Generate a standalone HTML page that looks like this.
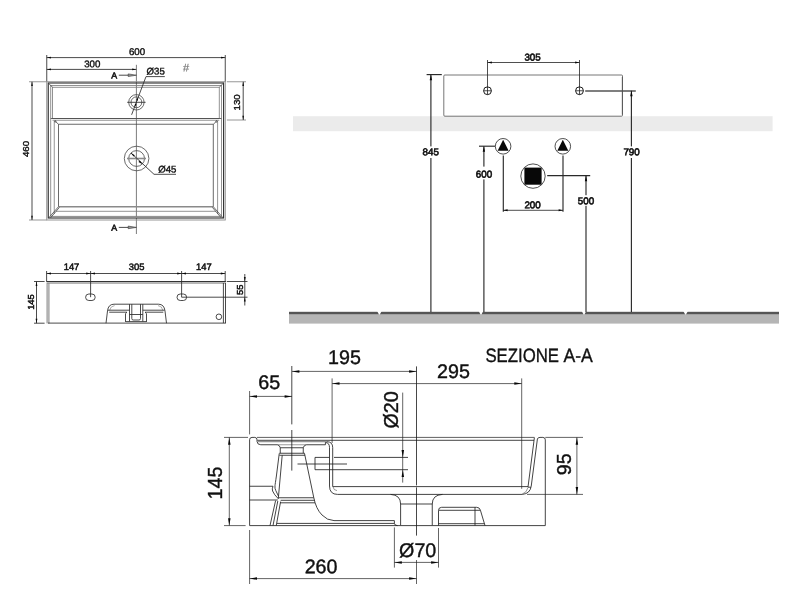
<!DOCTYPE html>
<html><head><meta charset="utf-8"><title>Scheda tecnica</title>
<style>
html,body{margin:0;padding:0;background:#fff}
body{width:800px;height:600px;overflow:hidden}
svg{display:block;will-change:transform;filter:grayscale(1)}
text{font-family:"Liberation Sans",sans-serif;fill:#111}
.a{fill:none;stroke:#2a2a2a;stroke-width:.85}
.a2{fill:none;stroke:#777;stroke-width:.6}
.b{fill:none;stroke:#2a2a2a;stroke-width:1.1}
.p{fill:none;stroke:#444;stroke-width:.8}
.g4{fill:none;stroke:#787878;stroke-width:.8}
.d2{fill:none;stroke:#444;stroke-width:.7}
.d{fill:none;stroke:#2a2a2a;stroke-width:.85}
.k{fill:#080808;stroke:none}
.h{fill:#999;stroke:#333;stroke-width:.6}
.t1{font-size:9.7px;stroke:#111;stroke-width:.4}
.t2{font-size:8.8px;stroke:#111;stroke-width:.55}
.t3{font-size:9.6px;stroke:#111;stroke-width:.4}
.g{fill:none;stroke:#8a8a8a;stroke-width:.9}
.g2{fill:none;stroke:#505050;stroke-width:.85}
.g3{fill:none;stroke:#8a8a8a;stroke-width:1.6}
.t4{font-size:11px;fill:#777;stroke:#777;stroke-width:.2}
.tb{font-size:9.6px;font-weight:bold}
.tr{font-size:9.4px;stroke:#111;stroke-width:.5}
.b2{fill:none;stroke:#333;stroke-width:1.1}
.ti{font-size:9.8px;stroke:#111;stroke-width:.62}
.ts{font-size:19.7px;stroke:#111;stroke-width:.4}
.tz{font-size:19.3px;stroke:#111;stroke-width:.35;word-spacing:1.5px}
.c{fill:none;stroke:#222;stroke-width:.85}
.c2{fill:none;stroke:#555;stroke-width:.6}
.c3{fill:none;stroke:#222;stroke-width:.6}
.c4{fill:none;stroke:#444;stroke-width:.85}
.cl{fill:none;stroke:#181818;stroke-width:.8}
.dl{fill:none;stroke:#222;stroke-width:.7}
.band{fill:#ebebeb}
.gb{fill:#b2b2b2}
.db{fill:#5a5a5a}
.floor{fill:#b5b5b6}
.floor2{fill:#555}
.w{fill:#fff}
.s{fill:none;stroke:#4a4a4a;stroke-width:.75}
.s1{fill:none;stroke:#222;stroke-width:.8}
.s2{fill:none;stroke:#2a2a2a;stroke-width:1.15}
.s4{fill:none;stroke:#555;stroke-width:1.5}
.s3{fill:none;stroke:#1a1a1a;stroke-width:1}
</style></head><body>
<svg width="800" height="600" viewBox="0 0 800 600">
<rect width="800" height="600" fill="#fff"/>
<g id="plan">
<path class="d" d="M46.75 55L46.75 81.75"/>
<path class="d" d="M225.25 55L225.25 81.75"/>
<path class="d" d="M46.75 57.6L225.25 57.6"/>
<path class="k" d="M46.75 57.6L50.95 56.8L50.95 58.4Z"/>
<path class="k" d="M225.25 57.6L221.05 58.4L221.05 56.8Z"/>
<path class="d" d="M46.75 69.4L136.4 69.4"/>
<path class="k" d="M46.75 69.4L50.95 68.6L50.95 70.2Z"/>
<path class="k" d="M136.4 69.4L132.2 70.2L132.2 68.6Z"/>
<text class="t1" x="137" y="55" text-anchor="middle" transform="rotate(0.03 137 55)">600</text>
<text class="t1" x="92.3" y="67.2" text-anchor="middle" transform="rotate(0.03 92.3 67.2)">300</text>
<path class="d2" d="M136.4 64.8L136.4 234"/>
<text class="t2" x="114.2" y="78.4" text-anchor="middle" transform="rotate(0.03 114.2 78.4)">A</text>
<path class="d" d="M118.8 75.2L129 75.2"/>
<path class="h" d="M128.2 73.9L136.4 75.2L128.2 76.5Z"/>
<text class="t2" x="114.2" y="230.8" text-anchor="middle" transform="rotate(0.03 114.2 230.8)">A</text>
<path class="d" d="M118.8 227.4L129 227.4"/>
<path class="h" d="M128.2 226.1L136.4 227.4L128.2 228.7Z"/>
<path class="g" d="M29 81.75L46.75 81.75"/>
<path class="g" d="M29 220L46.75 220"/>
<path class="d" d="M32 81.75L32 220"/>
<path class="k" d="M32 81.75L32.8 85.95L31.2 85.95Z"/>
<path class="k" d="M32 220L31.2 215.8L32.8 215.8Z"/>
<text class="t1" x="28.8" y="149" text-anchor="middle" transform="rotate(-90 28.8 149)">460</text>
<path class="g" d="M226.85 81.75L246 81.75"/>
<path class="g" d="M226.85 120L246 120"/>
<path class="d" d="M243.2 81.75L243.2 120"/>
<path class="k" d="M243.2 81.75L244 85.95L242.4 85.95Z"/>
<path class="k" d="M243.2 120L242.4 115.8L244 115.8Z"/>
<text class="t1" x="240.4" y="102.4" text-anchor="middle" transform="rotate(-90 240.4 102.4)">130</text>
<rect class="g" x="46.75" y="81.75" width="178.5" height="138.25"/>
<rect class="b" x="48.25" y="83" width="175.35" height="135"/>
<rect class="g4" x="50.75" y="85.5" width="170.65" height="130.8"/>
<path class="p" d="M48.25 83L52.5 87.25"/>
<path class="p" d="M223.6 83L219.25 87.25"/>
<rect class="g4" x="52.5" y="87.25" width="166.75" height="31.25"/>
<path class="p" d="M50.75 118.5L221.4 118.5"/>
<path class="g4" d="M52.5 120.25L219.25 120.25"/>
<path class="g4" d="M54.25 121.6 V214 M217.6 121.6 V214 M56 211.3 H216"/>
<path class="p" d="M58.5 206.75 V124.25 H213.3 V206.75"/>
<path class="g3" d="M58.5 206.75L213.3 206.75"/>
<path class="p" d="M58.6 206.6 L48.6 218 M59.4 207.4 L50.4 218 M213.2 206.6 L223.2 218 M212.4 207.4 L221.4 218"/>
<path class="p" d="M55.4 121.4 L58.5 124.25 M216.4 121.4 L213.3 124.25"/>
<circle class="p" cx="55.2" cy="121.4" r="0.8"/>
<circle class="p" cx="216.6" cy="121.4" r="0.8"/>
<path class="g3" d="M52.6 217.2L219.2 217.2"/>
<circle class="p" cx="136.4" cy="102.3" r="7.7"/>
<circle class="p" cx="136.4" cy="102.3" r="5.4"/>
<path class="d" d="M127.2 102.3L145.6 102.3"/>
<path class="d" d="M164.8 76.6 H146 L131.6 114.8"/>
<text class="t3" x="146.6" y="74.6" text-anchor="start" transform="rotate(0.03 146.6 74.6)">Ø35</text>
<path class="k" d="M138.3 97L137.78 100.65L136.28 100.08Z"/>
<path class="k" d="M134.5 107.4L135.02 103.75L136.52 104.32Z"/>
<circle class="p" cx="136.6" cy="158.5" r="12.3"/>
<circle class="p" cx="136.6" cy="158.5" r="7.9"/>
<path class="g3" d="M127 158.5L146 158.5"/>
<path class="d" d="M176 174.3 H154 L131 153"/>
<text class="t3" x="158.2" y="172.5" text-anchor="start" transform="rotate(0.03 158.2 172.5)">Ø45</text>
<path class="k" d="M130.9 152.9L134.82 155.14L133.46 156.61Z"/>
<path class="k" d="M142.4 164.2L138.48 161.96L139.84 160.49Z"/>
<text class="t4" x="186" y="71.6" text-anchor="middle" transform="rotate(0.03 186 71.6)">#</text>
</g>
<g id="rear">
<rect class="gb" x="46.3" y="283" width="3.4" height="40.4"/>
<path class="b2" d="M46.4 281.6 H225.9"/>
<path class="g" d="M47 283.2 H225.6"/>
<path class="a" d="M223.4 283 V323.1 M225.5 283 V323.1 M48 323.1 H225.9"/>
<path class="d" d="M46.6 273.5L225.2 273.5"/>
<path class="d" d="M46.6 271L46.6 281.5"/>
<path class="d" d="M225.2 271L225.2 281.5"/>
<path class="d" d="M90.6 271L90.6 297.2"/>
<path class="d" d="M181.6 271L181.6 297.2"/>
<path class="k" d="M46.6 273.5L51 272.6L51 274.4Z"/>
<path class="k" d="M90.6 273.5L86.2 274.4L86.2 272.6Z"/>
<path class="k" d="M90.6 273.5L95 272.6L95 274.4Z"/>
<path class="k" d="M181.6 273.5L177.2 274.4L177.2 272.6Z"/>
<path class="k" d="M181.6 273.5L186 272.6L186 274.4Z"/>
<path class="k" d="M225.2 273.5L220.8 274.4L220.8 272.6Z"/>
<text class="tr" x="71.5" y="270" text-anchor="middle" transform="rotate(0.03 71.5 270)">147</text>
<text class="tr" x="136.6" y="270" text-anchor="middle" transform="rotate(0.03 136.6 270)">305</text>
<text class="tr" x="203.8" y="270" text-anchor="middle" transform="rotate(0.03 203.8 270)">147</text>
<rect class="a" x="85.6" y="294" width="9.6" height="6.5" rx="3.25"/>
<rect class="a" x="177" y="294" width="9.6" height="6.5" rx="3.25"/>
<circle class="a" cx="218.9" cy="316.8" r="2.8"/>
<path class="d" d="M181.6 297.2L247.5 297.2"/>
<path class="d" d="M226.8 281.5L247.5 281.5"/>
<path class="d" d="M244.8 274L244.8 305.5"/>
<path class="k" d="M244.8 281.5L243.9 277.1L245.7 277.1Z"/>
<path class="k" d="M244.8 297.2L245.7 301.6L243.9 301.6Z"/>
<text class="tr" x="242.8" y="289.8" text-anchor="middle" transform="rotate(-90 242.8 289.8)">55</text>
<path class="d" d="M34 281.5L44.6 281.5"/>
<path class="d" d="M34 323.2L44.6 323.2"/>
<path class="d" d="M36.5 281.5L36.5 323.2"/>
<path class="k" d="M36.5 281.5L37.4 285.9L35.6 285.9Z"/>
<path class="k" d="M36.5 323.2L35.6 318.8L37.4 318.8Z"/>
<text class="tr" x="34.2" y="302" text-anchor="middle" transform="rotate(-90 34.2 302)">145</text>
<path class="a" d="M106 323.2 L107.5 311 Q108.2 304.2 114 304.2 H158.5 Q164.2 304.2 165 311 L166.5 323.2"/>
<path class="a2" d="M109.6 310.4 Q110.4 306 114.6 305.6 M162.9 310.4 Q162.1 306 158 305.6"/>
<path class="a" d="M108 310.2 H129.5 M109.2 312.2 H127 L125.5 313.6 V322 M164.5 310.2 H142.8 M163.3 312.2 H145 L146.5 313.6 V322"/>
<path class="a" d="M129.5 304.2 V321.4 M142.8 304.2 V321.4 M131.8 304.2 V318.6 Q131.8 320 133.2 320 H139 Q140.5 320 140.5 318.6 V304.2 M129.5 314.5 H142.8 M126 321.6 H146.2"/>
</g>
<g id="inst">
<rect class="band" x="293" y="116.2" width="479.6" height="15"/>
<rect class="floor" x="289" y="312" width="490" height="11.6"/>
<rect class="floor2" x="289" y="311.8" width="490" height="2.4"/>
<path class="w" d="M377.1 311 H381.7 L379.8 314.4 H379Z"/>
<path class="w" d="M478.7 311 H483.3 L481.4 314.4 H480.6Z"/>
<path class="w" d="M581.7 311 H586.3 L584.4 314.4 H583.6Z"/>
<path class="w" d="M683.3 311 H687.9 L686 314.4 H685.2Z"/>
<rect class="s" x="443.8" y="75" width="178.7" height="41.2" rx="1"/>
<circle class="s3" cx="487.5" cy="90.75" r="3.9"/>
<path class="s1" d="M483.6 90.75L491.4 90.75"/>
<path class="s1" d="M487.5 86.8L487.5 94.7"/>
<circle class="s3" cx="579.5" cy="90.75" r="3.9"/>
<path class="s1" d="M575.6 90.75L583.4 90.75"/>
<path class="s1" d="M579.5 86.8L579.5 94.7"/>
<path class="s1" d="M487.5 62.5L579.5 62.5"/>
<path class="k" d="M487.5 62.5L491.9 61.6L491.9 63.4Z"/>
<path class="k" d="M579.5 62.5L575.1 63.4L575.1 61.6Z"/>
<path class="s1" d="M487.5 60L487.5 87"/>
<path class="s1" d="M579.5 60L579.5 87"/>
<text class="ti" x="532.6" y="60.6" text-anchor="middle" transform="rotate(0.03 532.6 60.6)">305</text>
<path class="s2" d="M426.6 74.6L441.8 74.6"/>
<path class="s2" d="M430.9 74.6L430.9 312"/>
<path class="k" d="M430.9 74.6L432.1 80.2L429.7 80.2Z"/>
<rect x="420" y="146.4" width="22" height="11.6" fill="#fff"/>
<text class="ti" x="430.8" y="155.2" text-anchor="middle" transform="rotate(0.03 430.8 155.2)">845</text>
<path class="s4" d="M585.2 90.9L635.8 90.9"/>
<path class="s" d="M622.3 77L622.3 114.6"/>
<path class="s2" d="M631.4 90.75L631.4 312"/>
<path class="k" d="M631.4 90.75L632.6 96.35L630.2 96.35Z"/>
<rect x="620" y="146.4" width="22" height="11.6" fill="#fff"/>
<text class="ti" x="631.6" y="155.2" text-anchor="middle" transform="rotate(0.03 631.6 155.2)">790</text>
<circle class="s1" cx="503.1" cy="146.3" r="7.8"/>
<path class="k" d="M503.1 139.8 L508.6 150.7 H497.6Z"/>
<path class="s2" d="M503.3 155.4L503.3 211.8"/>
<circle class="s1" cx="562.8" cy="146.3" r="7.8"/>
<path class="k" d="M562.8 139.8 L568.3 150.7 H557.3Z"/>
<path class="s2" d="M563 155.4L563 211.8"/>
<path class="s2" d="M479 146.2L495.2 146.2"/>
<path class="s2" d="M483.9 146.2L483.9 312"/>
<path class="k" d="M483.9 146.2L485.1 151.8L482.7 151.8Z"/>
<rect x="474" y="166.6" width="22" height="12.8" fill="#fff"/>
<text class="ti" x="484" y="177.6" text-anchor="middle" transform="rotate(0.03 484 177.6)">600</text>
<circle class="s1" cx="533" cy="176.1" r="12.2"/>
<rect class="k" x="524.4" y="167.6" width="17.2" height="17.1"/>
<path class="s2" d="M547.2 175.6L590.2 175.6"/>
<path class="s2" d="M586 175.6L586 312"/>
<path class="k" d="M586 175.6L587.2 181.2L584.8 181.2Z"/>
<rect x="576" y="195.2" width="22" height="10.6" fill="#fff"/>
<text class="ti" x="586" y="204.3" text-anchor="middle" transform="rotate(0.03 586 204.3)">500</text>
<path class="s1" d="M503.2 210.3L563 210.3"/>
<path class="k" d="M503.2 210.3L507.6 209.3L507.6 211.3Z"/>
<path class="k" d="M563 210.3L558.6 211.3L558.6 209.3Z"/>
<text class="ti" x="532.6" y="208.2" text-anchor="middle" transform="rotate(0.03 532.6 208.2)">200</text>
</g>
<g id="sect">
<path class="c" d="M249.6 525.6 V439.8 Q249.6 437.4 252 437.4 H254.8 Q257 437.4 257 439.8 V441.4 Q257.2 444.75 260.8 444.75 H277.5 Q279.8 445.4 280.25 447.75 V453.25 M303.25 453.25 V447.75 Q303.8 445.4 306.25 444.75 H325.4 V442.5 Q329.4 442.6 329.5 447.4 V486 Q329.6 494.4 337.5 494.4 H522.5"/>
<path class="c2" d="M277.5 444.75L306.25 444.75"/>
<path class="c" d="M249.6 525.6 H545.3 V439.8 Q545.3 437.4 542.9 437.4 H540 Q537.8 437.4 537.4 439"/>
<path class="c4" d="M257 437.4 H534.4"/>
<path class="c" d="M327 441.7 Q332.7 441.8 332.7 447.6 V486.6 H528 M257.4 440.3 H534"/>
<path class="c3" d="M257.8 441.7 H327"/>
<path class="c" d="M280.25 447.75 H303.25 M279.4 453.25 H304.6 M279.4 455.25 H305"/>
<path class="c" d="M279.25 453.4 L276.4 476 Q275.2 484 275 485.6 Q274.6 488.4 275.8 490.6 L278.4 496 M282.2 455.25 L278.3 498.6 M304.5 453.4 L313.75 497.5 Q316 509 322 515 Q327 520.4 334 520.6 H394.4 V523.4 Q394.6 525.6 397.6 525.6"/>
<path class="c" d="M249.6 486.25 H273 Q271.8 489 272.6 491 Q274 494.6 278.4 498.8 M249.6 500 H277.8 M278.6 497.75 H313.8 M280.6 500.3 H314.4 M280.2 502.8 H315"/>
<path class="c" d="M275.6 500.6 L270 525.6 M277.8 501 L273 525.6 M280.6 501.6 L276.25 525.6 M277 523.4 H394.4"/>
<path class="c2" d="M333 486.6 Q333.4 490.4 337 490.6"/>
<path class="c" d="M329.4 457.4 H315 V469.7 H408 M334 457.4 H408"/>
<path class="c" d="M297.5 464L347 464"/>
<path class="c" d="M390.6 494.4 Q400.6 495 400.6 504 V525.2 M442.5 494.4 Q432.25 495 432.25 504 V525.2 M400.6 504 H432.25"/>
<path class="c" d="M438.5 525.6 V510.4 Q438.6 507.3 441.6 507.3 H476.6 Q479.6 507.3 480.4 510.2 L485 525.6"/>
<path class="c" d="M438.8 510.3 H480.2 M475 507.3 V525.6 M438.5 523.7 H484.4"/>
<path class="c" d="M534.4 437.6 L528 487 M537.4 439 L531.2 486.4 Q530 493.6 522.5 494.4 M528 487.2 H531"/>
<path class="c2" d="M528 487.4 Q527 492.6 522 494.2"/>
<path class="cl" d="M291.8 366 V424.4 M291.8 430 V470.6"/>
<path class="cl" d="M416.5 366.4 V485.4 M416.5 487.4 V535.6"/>
<path class="dl" d="M292 371.4L416.5 371.4"/>
<path class="k" d="M292 371.4L299.4 370.15L299.4 372.65Z"/>
<path class="k" d="M416.5 371.4L409.1 372.65L409.1 370.15Z"/>
<text class="ts" x="344.5" y="364" text-anchor="middle" transform="rotate(0.03 344.5 364)">195</text>
<path class="dl" d="M249.6 391L249.6 434.4"/>
<path class="dl" d="M249.6 396.4L292 396.4"/>
<path class="k" d="M249.6 396.4L257 395.15L257 397.65Z"/>
<path class="k" d="M292 396.4L284.6 397.65L284.6 395.15Z"/>
<text class="ts" x="269.2" y="389" text-anchor="middle" transform="rotate(0.03 269.2 389)">65</text>
<path class="dl" d="M332.1 378.4L332.1 443"/>
<path class="dl" d="M521.7 378.4L521.7 488.8"/>
<path class="dl" d="M332.1 383.6L521.7 383.6"/>
<path class="k" d="M332.1 383.6L339.5 382.35L339.5 384.85Z"/>
<path class="k" d="M521.7 383.6L514.3 384.85L514.3 382.35Z"/>
<text class="ts" x="453.5" y="378" text-anchor="middle" transform="rotate(0.03 453.5 378)">295</text>
<path class="dl" d="M402.7 392.6L402.7 482.6"/>
<path class="k" d="M402.8 457.4L401.55 450L404.05 450Z"/>
<path class="k" d="M402.8 469.7L404.05 477.1L401.55 477.1Z"/>
<text class="ts" x="397.8" y="410" text-anchor="middle" transform="rotate(-90 397.8 410)">Ø20</text>
<path class="dl" d="M224 437.4L248 437.4"/>
<path class="dl" d="M224 525.6L245.6 525.6"/>
<path class="dl" d="M229.3 437.4L229.3 525.6"/>
<path class="k" d="M229.3 437.4L230.55 444.8L228.05 444.8Z"/>
<path class="k" d="M229.3 525.6L228.05 518.2L230.55 518.2Z"/>
<text class="ts" x="222.4" y="483" text-anchor="middle" transform="rotate(-90 222.4 483)">145</text>
<path class="dl" d="M545.3 437.4L583 437.4"/>
<path class="dl" d="M527 494.4L583 494.4"/>
<path class="dl" d="M576.9 437.4L576.9 494.4"/>
<path class="k" d="M576.9 437.4L578.15 444.8L575.65 444.8Z"/>
<path class="k" d="M576.9 494.4L575.65 487L578.15 487Z"/>
<text class="ts" x="571" y="464.2" text-anchor="middle" transform="rotate(-90 571 464.2)">95</text>
<path class="dl" d="M249.6 530L249.6 584"/>
<path class="dl" d="M416.5 560L416.5 584"/>
<path class="dl" d="M249.6 578.6L416.5 578.6"/>
<path class="k" d="M249.6 578.6L257 577.35L257 579.85Z"/>
<path class="k" d="M416.5 578.6L409.1 579.85L409.1 577.35Z"/>
<text class="ts" x="321.1" y="573.2" text-anchor="middle" transform="rotate(0.03 321.1 573.2)">260</text>
<path class="dl" d="M394.4 527.4L394.4 567.6"/>
<path class="dl" d="M438.5 528L438.5 567.6"/>
<path class="dl" d="M394.4 562.4L438.5 562.4"/>
<path class="k" d="M394.4 562.4L401.8 561.15L401.8 563.65Z"/>
<path class="k" d="M438.5 562.4L431.1 563.65L431.1 561.15Z"/>
<text class="ts" x="417.7" y="557" text-anchor="middle" transform="rotate(0.03 417.7 557)">Ø70</text>
<text class="tz" y="362" transform="rotate(0.03 540 362)"><tspan x="485.4" textLength="73.6" lengthAdjust="spacingAndGlyphs">SEZIONE</tspan> <tspan x="563.4" textLength="29.4" lengthAdjust="spacingAndGlyphs">A-A</tspan></text>
</g>
</svg>
</body></html>
